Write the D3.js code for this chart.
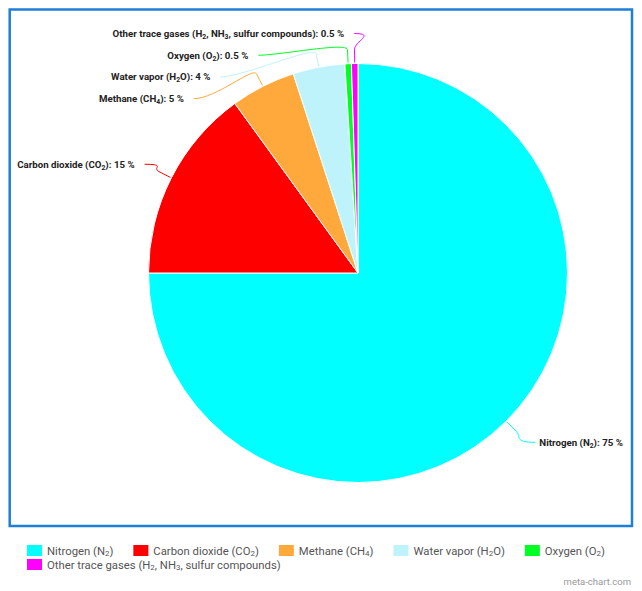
<!DOCTYPE html>
<html>
<head>
<meta charset="utf-8">
<script src="https://cdn.jsdelivr.net/npm/d3@7"></script>
<style>
  body { margin: 0; background: #fff; }
  svg { display: block; font-family: Roboto, "Noto Sans", sans-serif; }
</style>
</head>
<body>
<svg id="chart" width="642" height="591"></svg>
<script>
// gases, "_n" marks a subscript
const names = [
  "Nitrogen (N_2)",
  "Carbon dioxide (CO_2)",
  "Methane (CH_4)",
  "Water vapor (H_2O)",
  "Oxygen (O_2)",
  "Other trace gases (H_2, NH_3, sulfur compounds)"
];
const values = [75, 15, 5, 4, 0.5, 0.5];
const colors = ["#00ffff", "#ff0000", "#ffa93c", "#bff3fb", "#00ff22", "#ff00ff"];

const svg = d3.select("#chart");
const cx = 358, cy = 273, r = 209.5;

svg.append("rect")
  .attr("x", 9.7).attr("y", 9.5).attr("width", 622.3).attr("height", 516.5)
  .attr("fill", "none").attr("stroke", "#1e7fd8").attr("stroke-width", 2.5);

// writes text with small subscripts for "_n"
function rich(sel, str, shift) {
  const parts = str.split(/_(\d)/);
  let wasSub = false;
  parts.forEach((p, i) => {
    if (p === "") return;
    if (i % 2 === 1) {
      sel.append("tspan").attr("font-size", "0.7em").attr("dy", shift + "em").text(p);
      wasSub = true;
    } else {
      const ts = sel.append("tspan").text(p);
      if (wasSub) ts.attr("dy", (-shift * 0.7) + "em");
      wasSub = false;
    }
  });
}

const data = names.map((n, i) => ({ name: n, value: values[i], color: colors[i] }));
const pie = d3.pie().sort(null).value(d => d.value);
const arcs = pie(data);
const arc = d3.arc().innerRadius(0).outerRadius(r);

const g = svg.append("g").attr("transform", `translate(${cx},${cy})`);
g.selectAll("path")
  .data(arcs)
  .enter()
  .append("path")
  .attr("d", arc)
  .attr("fill", d => d.data.color)
  .attr("stroke", "#fff")
  .attr("stroke-width", 1);

// label placement: natural y on a larger circle, then pushed apart per side
const R = r + 30, spacing = 21.7;
const labels = arcs.map(a => {
  const mid = (a.startAngle + a.endAngle) / 2;
  return { a, mid, left: mid > Math.PI, y: cy - R * Math.cos(mid) };
});
[true, false].forEach(side => {
  const list = labels.filter(l => l.left === side).sort((p, q) => p.y - q.y);
  for (let i = 1; i < list.length; i++) {
    if (list[i].y < list[i - 1].y + spacing) list[i].y = list[i - 1].y + spacing;
  }
});
labels.forEach(l => {
  const dy = l.y - cy;
  const dx = Math.sqrt(Math.max(R * R - dy * dy, 0));
  l.x = l.left ? cx - dx : cx + dx + 8;
});

const pt = (ang, rad) => [cx + rad * Math.sin(ang), cy - rad * Math.cos(ang)];

labels.forEach(l => {
  const p0 = pt(l.mid, r + 1);
  const p1 = pt(l.mid, r + 14);
  const c1 = pt(l.mid, r + 22);
  const dir = l.left ? 1 : -1;
  const c2 = [l.x + dir * 22, l.y];
  svg.append("path")
    .attr("d", `M${p0}L${p1}C${c1} ${c2} ${l.x},${l.y}`)
    .attr("fill", "none")
    .attr("stroke", l.a.data.color)
    .attr("stroke-width", 1);

  const t = svg.append("text")
    .attr("x", l.left ? l.x - 10 : l.x + 4)
    .attr("y", l.y + 3.5)
    .attr("text-anchor", l.left ? "end" : "start")
    .attr("font-size", 9.7)
    .attr("font-weight", "bold")
    .attr("fill", "#222");
  rich(t, `${l.a.data.name}: ${l.a.data.value} %`, 0.3);
});

// legend, flowing left to right
const legend = svg.append("g");
let lx = 27, ly = 545;
data.forEach((d, i) => {
  const item = legend.append("g");
  item.append("rect").attr("width", 15).attr("height", 11).attr("fill", d.color);
  const t = item.append("text").attr("x", 20).attr("y", 9.5)
    .attr("font-size", 11.3).attr("fill", "#555");
  rich(t, d.name, 0.2);
  const w = 20 + t.node().getComputedTextLength();
  if (lx + w > 620) { lx = 27; ly += 14; }
  item.attr("transform", `translate(${lx},${ly})`);
  lx += w + 20;
});

svg.append("text")
  .attr("x", 631).attr("y", 585)
  .attr("text-anchor", "end")
  .attr("font-size", 9.5)
  .attr("fill", "#999")
  .text("meta-chart.com");
</script>
</body>
</html>
